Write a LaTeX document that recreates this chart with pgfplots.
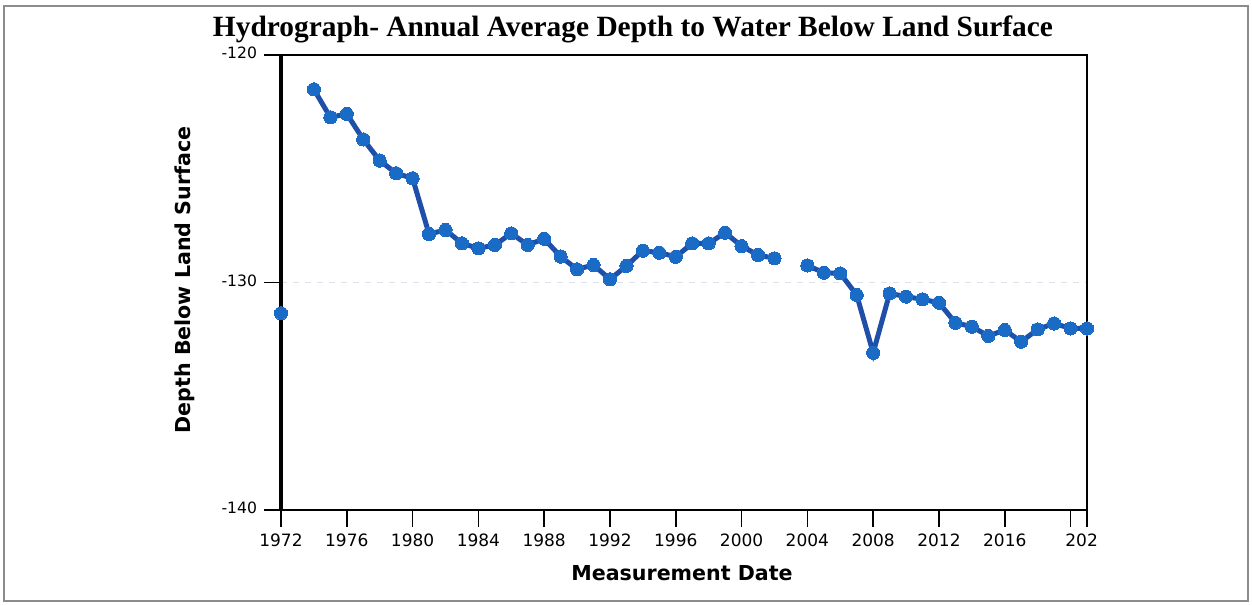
\documentclass[border=0pt]{standalone}
\usepackage{fontspec}
\setmainfont{DejaVu Sans}
\newfontfamily\titlefont{Liberation Serif}
\usepackage{pgfplots}
\pgfplotsset{compat=1.18}
\definecolor{linecol}{HTML}{1F4FA8}
\definecolor{markcol}{HTML}{1A6BC6}
\definecolor{gridcol}{HTML}{DCE2EC}

\pgfplotstableread{
year depth
1972 -131.35
1973 nan
1974 -121.51
1975 -122.74
1976 -122.59
1977 -123.71
1978 -124.64
1979 -125.20
1980 -125.42
1981 -127.87
1982 -127.69
1983 -128.28
1984 -128.50
1985 -128.35
1986 -127.84
1987 -128.35
1988 -128.08
1989 -128.86
1990 -129.42
1991 -129.23
1992 -129.86
1993 -129.27
1994 -128.60
1995 -128.69
1996 -128.87
1997 -128.28
1998 -128.28
1999 -127.81
2000 -128.40
2001 -128.79
2002 -128.94
2003 nan
2004 -129.25
2005 -129.57
2006 -129.60
2007 -130.55
2008 -133.09
2009 -130.48
2010 -130.62
2011 -130.74
2012 -130.89
2013 -131.77
2014 -131.94
2015 -132.35
2016 -132.09
2017 -132.60
2018 -132.06
2019 -131.80
2020 -132.02
2021 -132.02
}\hydro

\begin{document}
\begin{tikzpicture}
\begin{axis}[
  at={(0,0)}, anchor=south west,
  scale only axis, width=403pt, height=227.5pt,
  xmin=1972, xmax=2021, ymin=-140, ymax=-120,
  clip=false,
  unbounded coords=jump,
  xtick={1972,1976,1980,1984,1988,1992,1996,2000,2004,2008,2012,2016,2020,2021},
  xticklabels={1972,1976,1980,1984,1988,1992,1996,2000,2004,2008,2012,2016,{},202\phantom{1}},
  ytick={-140,-130,-120},
  yticklabels={-140,-130,-120},
  xtick pos=bottom, ytick pos=left,
  tick align=outside,
  xtick style={black, line width=0.8pt},
  ytick style={black, line width=0.8pt},
  x tick label style={font=\fontsize{8.5}{10}\selectfont},
  y tick label style={font=\fontsize{7.8}{9}\selectfont, yshift=1pt},
  major tick length=8.5pt,
  minor tick num=0,
  ymajorgrids,
  grid style={dashed, gridcol, line width=0.6pt},
  axis line style={black, line width=0.9pt},
  xlabel={Measurement Date},
  ylabel={Depth Below Land Surface},
  label style={font=\bfseries\fontsize{10.3}{12}\selectfont},
  xlabel style={at={(axis description cs:0.4975,-0.1385)}, anchor=center},
  ylabel style={at={(axis description cs:-0.119,0.5055)}, anchor=center},
]
\draw[black, line width=1.6pt] (rel axis cs:0,0) -- (rel axis cs:0,1);
\addplot[linecol, line width=2.5pt, mark=*,
  mark options={fill=markcol, draw=markcol, line width=0pt, mark size=3.3pt}]
  table[x=year, y=depth] {\hydro};
\end{axis}
\node[anchor=base, font=\titlefont\bfseries\fontsize{14.7}{17}\selectfont]
  at (176pt,236.5pt) {Hydrograph- Annual Average Depth to Water Below Land Surface};
\draw[black!45, line width=1pt] (-138.5pt,-45.5pt) rectangle (483.5pt,252pt);
\pgfresetboundingbox
\useasboundingbox (-140.5pt,-47.5pt) rectangle (485.5pt,255pt);
\end{tikzpicture}
\end{document}
